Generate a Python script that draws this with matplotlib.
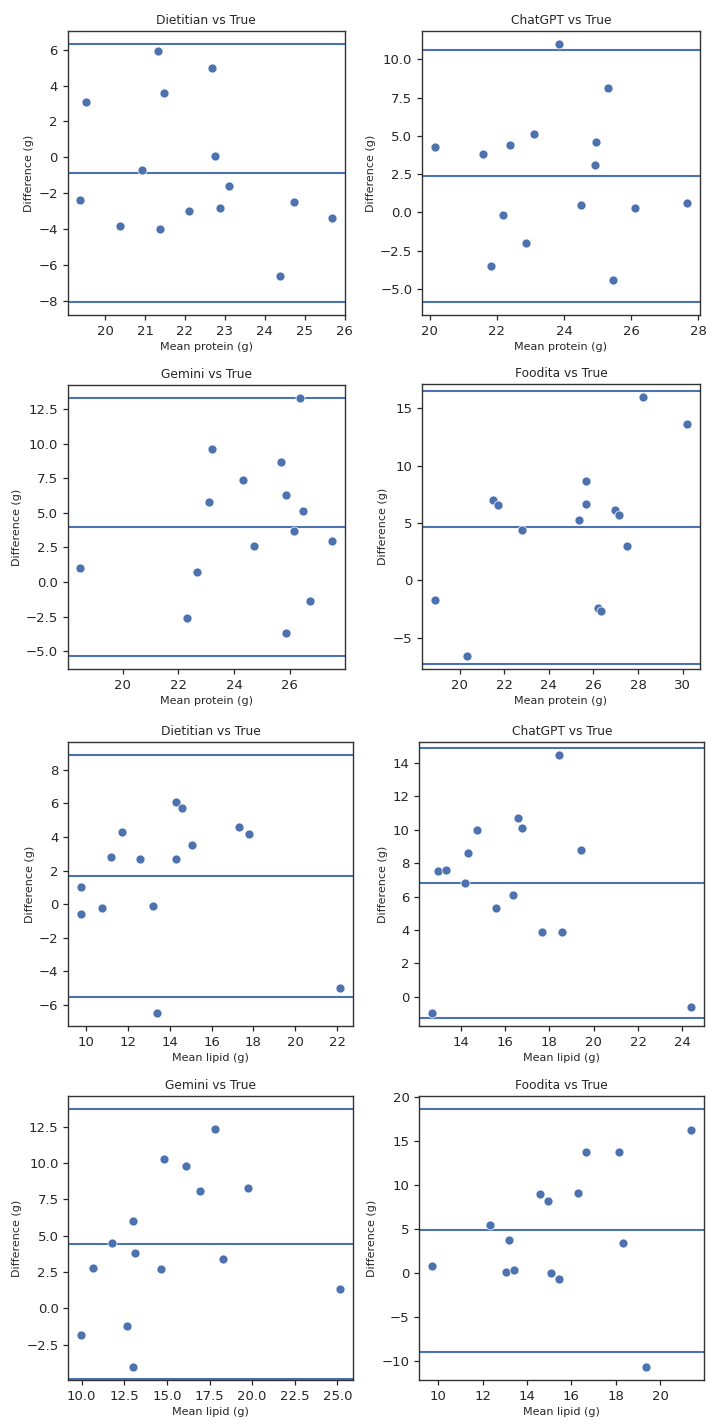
import numpy as np
import matplotlib
matplotlib.use("Agg")
import matplotlib.pyplot as plt

# ---------------- data ----------------
titles = ["Dietitian vs True", "ChatGPT vs True", "Gemini vs True", "Foodita vs True"]

# Protein
prot_diet_x = [19.53, 19.38, 21.33, 21.48, 20.93, 20.38, 21.38, 22.09, 22.68, 22.74, 22.88, 23.09, 24.73, 24.39, 25.69]
prot_diet_d = [3.1, -2.4, 5.9, 3.6, -0.7, -3.8, -4.0, -3.0, 5.0, 0.1, -2.8, -1.6, -2.5, -6.6, -3.4]

prot_gpt_x = [20.15, 21.58, 21.83, 22.18, 22.38, 22.87, 23.11, 23.85, 24.51, 24.91, 24.96, 25.31, 25.47, 26.12, 27.67]
prot_gpt_d = [4.3, 3.8, -3.5, -0.2, 4.4, -2.0, 5.1, 11.0, 0.5, 3.1, 4.6, 8.1, -4.4, 0.3, 0.6]

prot_gem_x = [18.47, 22.31, 22.66, 23.11, 23.21, 24.32, 24.73, 25.68, 25.88, 25.88, 26.17, 26.38, 26.48, 26.74, 27.54]
prot_gem_d = [1.0, -2.6, 0.7, 5.8, 9.6, 7.4, 2.6, 8.7, 6.3, -3.7, 3.7, 13.3, 5.1, -1.4, 3.0]

prot_food_x = [18.88, 20.31, 21.51, 21.72, 22.81, 25.37, 25.67, 25.67, 26.22, 26.35, 26.95, 27.16, 27.50, 28.21, 30.21]
prot_food_d = [-1.7, -6.6, 7.0, 6.6, 4.4, 5.3, 8.7, 6.7, -2.4, -2.7, 6.1, 5.7, 3.0, 16.0, 13.6]

# Lipid
lip_diet_x = [9.76, 9.76, 10.76, 11.16, 11.70, 12.59, 13.18, 13.39, 14.28, 14.30, 14.58, 15.08, 17.31, 17.80, 22.16]
lip_diet_d = [1.0, -0.6, -0.2, 2.8, 4.3, 2.7, -0.1, -6.5, 6.1, 2.7, 5.7, 3.5, 4.6, 4.2, -5.0]

lip_gpt_x = [12.71, 12.95, 13.33, 14.21, 14.31, 14.72, 15.57, 16.37, 16.56, 16.76, 17.67, 18.45, 18.56, 19.40, 24.40]
lip_gpt_d = [-1.0, 7.5, 7.6, 6.8, 8.6, 10.0, 5.3, 6.1, 10.7, 10.1, 3.9, 14.5, 3.9, 8.8, -0.6]

lip_gem_x = [9.98, 10.68, 11.81, 12.65, 13.04, 13.04, 13.14, 14.66, 14.86, 16.10, 16.92, 17.82, 18.27, 19.77, 25.17]
lip_gem_d = [-1.8, 2.8, 4.5, -1.2, 6.0, -4.0, 3.8, 2.7, 10.3, 9.8, 8.1, 12.3, 3.4, 8.3, 1.3]

lip_food_x = [9.72, 12.34, 13.03, 13.18, 13.43, 14.57, 14.96, 15.07, 15.42, 16.30, 16.66, 18.13, 18.34, 19.37, 21.41]
lip_food_d = [0.8, 5.5, 0.1, 3.8, 0.3, 9.0, 8.2, 0.0, -0.7, 9.1, 13.8, 13.8, 3.4, -10.7, 16.2]

panels = [
    (prot_diet_x, prot_diet_d, titles[0], "Mean protein (g)"),
    (prot_gpt_x, prot_gpt_d, titles[1], "Mean protein (g)"),
    (prot_gem_x, prot_gem_d, titles[2], "Mean protein (g)"),
    (prot_food_x, prot_food_d, titles[3], "Mean protein (g)"),
    (lip_diet_x, lip_diet_d, titles[0], "Mean lipid (g)"),
    (lip_gpt_x, lip_gpt_d, titles[1], "Mean lipid (g)"),
    (lip_gem_x, lip_gem_d, titles[2], "Mean lipid (g)"),
    (lip_food_x, lip_food_d, titles[3], "Mean lipid (g)"),
]

# ---------------- layout (pixel boxes: left, right, top, bottom) ----------------
W, H = 722, 1428
boxes = [
    (67.7, 345.0, 31.0, 315.0),
    (422.0, 700.0, 31.0, 315.0),
    (67.7, 345.0, 385.0, 669.0),
    (422.0, 700.0, 384.0, 669.0),
    (68.3, 353.3, 742.3, 1026.3),
    (419.3, 704.3, 741.7, 1026.3),
    (68.3, 353.3, 1096.0, 1380.0),
    (419.3, 704.3, 1096.0, 1380.0),
]

blue = "#4C72B0"
dark = "#262626"

fig = plt.figure(figsize=(W / 100, H / 100), dpi=100)
fig.patch.set_facecolor("white")

for i, ((x, d, title, xlabel), (l, r, t, b)) in enumerate(zip(panels, boxes)):
    ax = fig.add_axes([l / W, 1 - b / H, (r - l) / W, (b - t) / H])
    x = np.asarray(x)
    d = np.asarray(d)
    bias = d.mean()
    sd = d.std(ddof=1)
    ax.scatter(x, d, s=42, color=blue, edgecolor="white", linewidth=0.5, zorder=3)
    for yv in (bias, bias + 1.96 * sd, bias - 1.96 * sd):
        ax.axhline(yv, color=blue, linewidth=1.5, zorder=2)
    if i == 6:
        ax.set_ylim(bias - 1.96 * sd - 0.05, None)
    ax.set_title(title, fontsize=8.8, color=dark, pad=5)
    ax.set_xlabel(xlabel, fontsize=8, color=dark, labelpad=3)
    ax.set_ylabel("Difference (g)", fontsize=8, color=dark, labelpad=3)
    ax.tick_params(labelsize=9.5, colors=dark, length=3.5, width=0.9)
    for sp in ax.spines.values():
        sp.set_color("#333333")
        sp.set_linewidth(1.0)

fig.savefig("out.png", dpi=100, facecolor="white")
